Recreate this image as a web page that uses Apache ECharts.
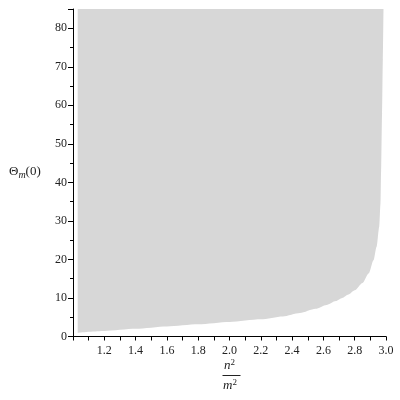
<!DOCTYPE html>
<html>
<head>
<meta charset="utf-8">
<script src="https://cdn.jsdelivr.net/npm/echarts@6/dist/echarts.min.js"></script>
<style>html,body{margin:0;padding:0;background:#fff}#c{width:400px;height:400px}</style>
</head>
<body>
<div id="c"></div>
<script>
const ratioX = [1.03,1.2,1.4,1.6,1.8,2.0,2.2,2.34,2.45,2.55,2.62,2.68,2.72,2.76,2.8,2.85,2.89,2.92,2.94,2.957,2.965,2.969,2.975,2.98,2.984];
const thetaY = [1.0,1.45,2.0,2.6,3.15,3.75,4.45,5.2,6.1,7.2,8.2,9.2,10.0,10.9,12.0,13.9,16.4,19.8,23.3,28.5,34.5,43,58,72,85];
const xTickLabels = ['1.2','1.4','1.6','1.8','2.0','2.2','2.4','2.6','2.8','3.0'];
const yTickLabels = ['0','10','20','30','40','50','60','70','80'];

const pts = ratioX.map((x, i) => [x, thetaY[i]]);
const font = 'Liberation Serif';
const chart = echarts.init(document.getElementById('c'), null, {renderer: 'canvas'});
chart.setOption({
  animation: false,
  backgroundColor: '#fff',
  grid: {left: 73, right: 14, top: 9, bottom: 63.5},
  xAxis: {
    type: 'value', min: 1, max: 3, interval: 0.2,
    axisLine: {onZero: false, lineStyle: {color: '#000', width: 1}},
    axisTick: {show: true, length: 4, lineStyle: {color: '#000'}},
    minorTick: {show: true, splitNumber: 2, length: 4, lineStyle: {color: '#000'}},
    splitLine: {show: false},
    axisLabel: {
      color: '#222', fontFamily: font, fontSize: 12, margin: 8,
      formatter: v => { const s = v.toFixed(1); return xTickLabels.includes(s) ? s : ''; }
    }
  },
  yAxis: {
    type: 'value', min: 0, max: 85, interval: 10,
    axisLine: {show: true, onZero: false, lineStyle: {color: '#000', width: 1}},
    axisTick: {show: true, length: 5, lineStyle: {color: '#000'}},
    minorTick: {show: true, splitNumber: 2, length: 3, lineStyle: {color: '#000'}},
    splitLine: {show: false},
    axisLabel: {
      color: '#222', fontFamily: font, fontSize: 12, margin: 6,
      formatter: v => { const s = String(Math.round(v)); return yTickLabels.includes(s) ? s : ''; }
    }
  },
  series: [{
    type: 'line', data: pts, showSymbol: false, smooth: 0.25, smoothMonotone: 'x',
    lineStyle: {width: 0},
    areaStyle: {origin: 'end', color: '#d7d7d7', opacity: 1}
  }],
  graphic: [
    {type: 'text', left: 9, top: 165, style: {
      rich: {
        a: {fontFamily: font, fontSize: 13, fill: '#222'},
        s: {fontFamily: font, fontSize: 10, fontStyle: 'italic', fill: '#222', padding: [8, 0, 0, 0]}
      },
      text: '{a|Θ}{s|m}{a|(0)}'
    }},
    {type: 'text', left: 224, top: 358, style: {
      rich: {
        i: {fontFamily: font, fontSize: 13, fontStyle: 'italic', fill: '#222'},
        p: {fontFamily: font, fontSize: 9, fill: '#222', padding: [0, 0, 7, 0]}
      },
      text: '{i|n}{p|2}'
    }},
    {type: 'line', shape: {x1: 222.5, y1: 375.5, x2: 240.5, y2: 375.5}, style: {stroke: '#222', lineWidth: 1}},
    {type: 'text', left: 223, top: 378, style: {
      rich: {
        i: {fontFamily: font, fontSize: 13, fontStyle: 'italic', fill: '#222'},
        p: {fontFamily: font, fontSize: 9, fill: '#222', padding: [0, 0, 7, 0]}
      },
      text: '{i|m}{p|2}'
    }}
  ]
});
</script>
</body>
</html>
